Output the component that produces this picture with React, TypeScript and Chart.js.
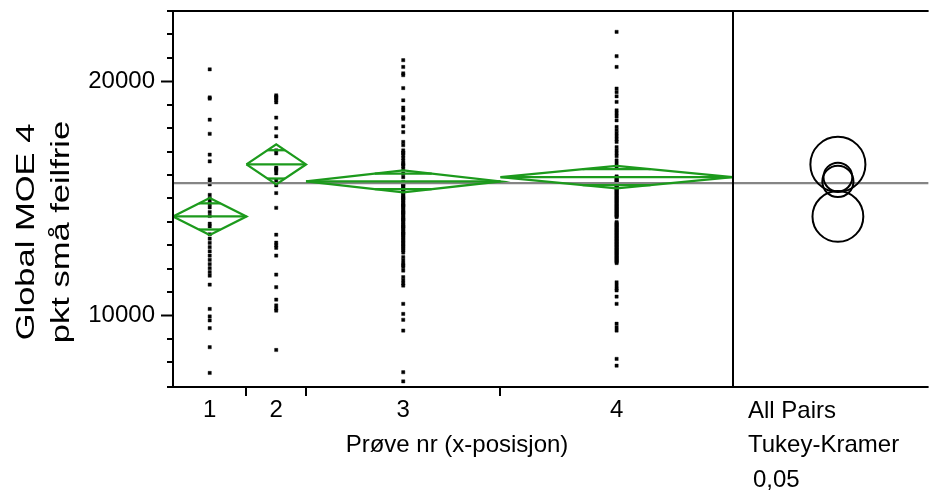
import React, { useEffect, useRef } from 'react';
import { Chart, registerables } from 'chart.js';

Chart.register(...registerables);

// ---------- data ----------
const groupLabels = ['1', '2', '3', '4'];

const group1 = [20510, 19310, 19260, 18360, 17760, 16870, 16580, 15810, 15700, 15600, 15150, 15000, 14880, 14760, 14620, 14420, 14250, 13920, 13810, 13470, 13280, 13100, 12920, 12740, 12560, 12380, 12200, 12020, 11850, 11700, 11320, 10280, 9960, 9790, 9460, 8650, 7550];

const group2 = [19400, 19340, 19280, 19200, 19100, 18450, 18000, 17650, 17050, 16920, 16310, 16250, 16200, 16070, 15770, 15560, 15230, 14600, 13450, 13110, 13000, 12890, 12560, 11750, 11210, 10680, 10430, 10300, 10210, 8530];

const group3 = [20900, 20610, 20340, 20260, 19710, 19190, 18880, 18760, 18470, 18400, 18080, 17830, 17410, 17270,
  17050, 16950, 16940, 16830, 16720, 16610, 16500, 16450, 16390, 16270,
  16060, 15910,
  15700, 15640, 15600, 15580, 15510, 15450, 15390, 15320, 15300, 15260, 15200, 15130, 15070, 15010, 15000, 14940, 14880, 14820, 14750, 14700, 14690, 14630, 14560, 14500, 14440, 14400, 14370, 14310, 14250, 14180, 14120, 14100, 14060, 13990, 13930, 13870, 13800, 13800, 13740, 13680, 13610, 13550, 13500, 13490, 13420, 13360, 13300, 13230, 13170, 13110, 13040, 12980, 12920,
  12850, 12780, 12690, 12490, 12350, 12220, 12150, 12070, 11920, 11640, 11500, 11370, 11280,
  10500, 10070, 9820, 9360, 7580, 7190];

const group4 = [22110, 21070, 20610, 19690, 19540, 19360, 19120,
  18760, 18630, 18500, 18330, 18050, 17910, 17780, 17650, 17520, 17410,
  17190, 17050, 16920, 16800, 16620, 16480, 16340,
  15940, 15900, 15850, 15810, 15760, 15720, 15680, 15630, 15590, 15550, 15500, 15460, 15410, 15370, 15330, 15280, 15240, 15200, 15150, 15110, 15060, 15020, 14980, 14930, 14890, 14850, 14800, 14760, 14710, 14670, 14630, 14580, 14540, 14500, 14450, 14410, 14370, 14320, 14280, 14240, 14200,
  13990, 13950, 13900, 13860, 13820, 13770, 13730, 13680, 13640, 13600, 13550, 13510, 13470, 13420, 13380, 13330, 13290, 13250, 13200, 13160, 13120, 13070, 13030, 12990, 12940, 12900, 12850, 12810, 12770, 12720, 12680, 12640, 12590, 12550, 12500, 12460, 12420, 12370, 12330, 12290, 12240,
  11420, 11280, 11150, 11070, 10810, 10500, 9650, 9500, 9360, 8150, 7860];

const groups = [group1, group2, group3, group4];

// means diamonds (95% CI half-width) and Tukey comparison-circle radii
const groupMeans = [14231, 16453, 15726, 15910];
const ciHalf = [790, 855, 470, 480];
const circleRadius = [1085, 1175, 665, 615];
const grandMean = 15654;

// axis
const yMin = 6950;
const yMax = 23000;
const yTicks = [8000, 9000, 10000, 11000, 12000, 13000, 14000, 15000, 16000, 17000, 18000, 19000, 20000, 21000, 22000];
const yLabeled = [10000, 20000];
const compPanelUnits = 98.7; // width of comparison-circle panel, in observation units
const circleOffset = 53;     // circle centre inside that panel

const yTitle = ['Global MOE 4', 'pkt små feilfrie'];
const xTitle = 'Prøve nr (x-posisjon)';
const testLabels = ['All Pairs', 'Tukey-Kramer', '0,05'];

const GREEN = '#1c9a1c';
const FONT = "'Liberation Sans', Arial, Helvetica, sans-serif";

export default function App() {
  const canvasRef = useRef<HTMLCanvasElement | null>(null);

  useEffect(() => {
    const canvas = canvasRef.current;
    if (!canvas) return;

    const counts = groups.map((g) => g.length);
    const starts: number[] = [];
    let acc = 0;
    counts.forEach((c) => { starts.push(acc); acc += c; });
    const N = acc;
    const xMax = N + compPanelUnits;
    const centers = counts.map((c, i) => starts[i] + c / 2);
    const circleX = N + circleOffset;

    const datasets: any[] = [];

    // raw points
    const pts: { x: number; y: number }[] = [];
    groups.forEach((g, i) => g.forEach((v) => pts.push({ x: centers[i], y: v })));
    datasets.push({
      type: 'scatter',
      data: pts,
      pointStyle: 'rect',
      pointRadius: 2.3,
      pointBackgroundColor: '#000',
      pointBorderColor: '#000',
      pointBorderWidth: 0.4,
      order: 5,
    });

    // grand mean line
    datasets.push({
      type: 'scatter',
      data: [{ x: 0, y: grandMean }, { x: xMax, y: grandMean }],
      showLine: true,
      borderColor: '#858585',
      borderWidth: 2.4,
      pointRadius: 0,
      order: 4,
    });

    // means diamonds
    groups.forEach((g, i) => {
      const x0 = starts[i];
      const x1 = starts[i] + counts[i];
      const xc = centers[i];
      const m = groupMeans[i];
      const h = ciHalf[i];
      const hw = counts[i] / 2;
      const base = { type: 'scatter', showLine: true, borderColor: GREEN, borderWidth: 2.3, pointRadius: 0, order: 2, clip: false };
      datasets.push({ ...base, data: [{ x: x0, y: m }, { x: xc, y: m + h }, { x: x1, y: m }, { x: xc, y: m - h }, { x: x0, y: m }] });
      datasets.push({ ...base, data: [{ x: x0, y: m }, { x: x1, y: m }] });
      const oh = h / Math.SQRT2;
      const ow = hw * (1 - 1 / Math.SQRT2);
      datasets.push({ ...base, data: [{ x: xc - ow, y: m + oh }, { x: xc + ow, y: m + oh }] });
      datasets.push({ ...base, data: [{ x: xc - ow, y: m - oh }, { x: xc + ow, y: m - oh }] });
    });

    // comparison circles
    datasets.push({
      type: 'scatter',
      data: groupMeans.map((m) => ({ x: circleX, y: m })),
      pointStyle: 'circle',
      pointRadius: (ctx: any) => {
        const ys = ctx.chart.scales.y;
        const i = ctx.dataIndex;
        if (!ys) return 10;
        return Math.abs(ys.getPixelForValue(groupMeans[i] + circleRadius[i]) - ys.getPixelForValue(groupMeans[i]));
      },
      pointBackgroundColor: 'rgba(0,0,0,0)',
      pointBorderColor: '#000',
      pointBorderWidth: 2,
      order: 1,
    });

    const framePlugin = {
      id: 'jmpFrame',
      afterDraw(chart: any) {
        const ctx = chart.ctx as CanvasRenderingContext2D;
        const { top, bottom, left, right } = chart.chartArea;
        const xs = chart.scales.x;
        const ys = chart.scales.y;
        ctx.save();
        ctx.strokeStyle = '#000';
        ctx.lineWidth = 2;
        ctx.beginPath();
        // frame
        ctx.moveTo(left - 6, top); ctx.lineTo(right, top);
        ctx.moveTo(left - 6, bottom); ctx.lineTo(right, bottom);
        ctx.moveTo(left, top); ctx.lineTo(left, bottom);
        const xd = Math.round(xs.getPixelForValue(N));
        ctx.moveTo(xd, top); ctx.lineTo(xd, bottom);
        // minor y ticks
        yTicks.forEach((v) => {
          if (yLabeled.includes(v)) return;
          const y = Math.round(ys.getPixelForValue(v));
          ctx.moveTo(left - 6, y); ctx.lineTo(left, y);
        });
        // group separators
        for (let i = 1; i < starts.length; i++) {
          const x = Math.round(xs.getPixelForValue(starts[i]));
          ctx.moveTo(x, bottom); ctx.lineTo(x, bottom + 9);
        }
        ctx.stroke();

        ctx.fillStyle = '#000';
        // x tick labels
        ctx.font = `24px ${FONT}`;
        ctx.textAlign = 'center';
        ctx.textBaseline = 'alphabetic';
        groupLabels.forEach((lab, i) => {
          ctx.fillText(lab, xs.getPixelForValue(centers[i]), bottom + 30);
        });
        // x title centred under the group panel
        const panelMid = (left + xd) / 2;
        ctx.fillText(xTitle, panelMid + 4, bottom + 65);
        // test labels
        ctx.textAlign = 'left';
        ctx.fillText(testLabels[0], xd + 15, bottom + 31);
        ctx.fillText(testLabels[1], xd + 15, bottom + 65);
        ctx.fillText(testLabels[2], xd + 20, bottom + 100);

        // y title (rotated, stretched along its length)
        ctx.font = `25px ${FONT}`;
        ctx.textAlign = 'center';
        const yc = 232;
        [[34, yTitle[0]], [69, yTitle[1]]].forEach(([bx, txt]) => {
          ctx.save();
          ctx.translate(bx as number, yc);
          ctx.rotate(-Math.PI / 2);
          ctx.scale(1.38, 1);
          ctx.fillText(txt as string, 0, 0);
          ctx.restore();
        });
        ctx.restore();
      },
    };

    const chart = new Chart(canvas, {
      type: 'scatter',
      data: { datasets },
      options: {
        animation: false,
        responsive: false,
        events: [],
        layout: { padding: { top: 11, bottom: 108, left: 0, right: 0 } },
        plugins: { legend: { display: false }, tooltip: { enabled: false } },
        scales: {
          x: { type: 'linear', min: 0, max: xMax, display: false },
          y: {
            type: 'linear',
            min: yMin,
            max: yMax,
            afterBuildTicks: (scale: any) => {
              scale.ticks = yTicks.map((v) => ({ value: v }));
            },
            afterFit: (scale: any) => {
              scale.width = 173;
              scale.paddingTop = 0;
              scale.paddingBottom = 0;
            },
            border: { display: false },
            grid: {
              display: true,
              drawOnChartArea: false,
              drawTicks: true,
              tickLength: 12,
              tickWidth: 2,
              color: 'rgba(0,0,0,0)',
              tickColor: (c: any) => (c.tick && yLabeled.includes(c.tick.value) ? '#000' : 'rgba(0,0,0,0)'),
            },
            ticks: {
              padding: 6,
              color: '#000',
              font: { family: FONT, size: 24 },
              callback: (v: any) => (yLabeled.includes(Number(v)) ? String(v) : ''),
            },
          },
        },
      },
      plugins: [framePlugin],
    } as any);

    return () => chart.destroy();
  }, []);

  return (
    <div style={{ position: 'fixed', left: 0, top: 0, width: 933, height: 495, background: '#fff' }}>
      <canvas ref={canvasRef} width={933} height={495} />
    </div>
  );
}
